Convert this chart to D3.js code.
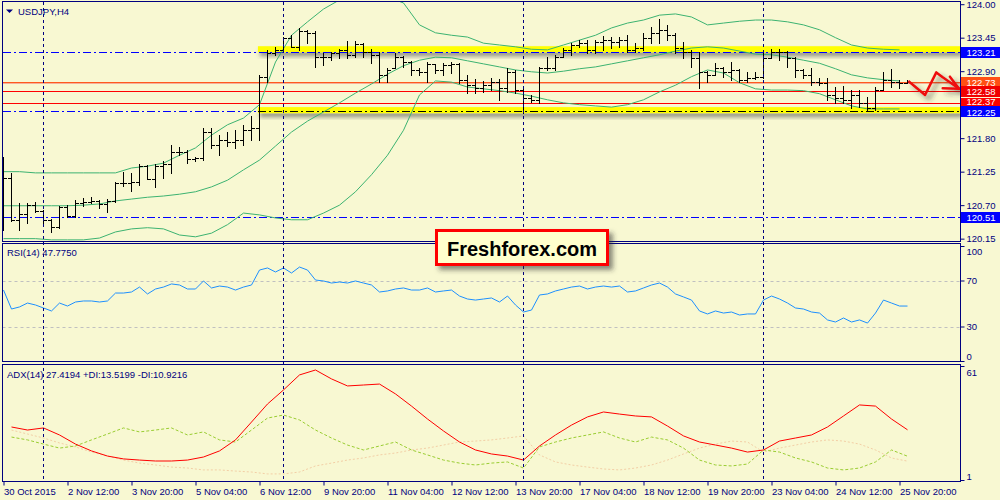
<!DOCTYPE html>
<html><head><meta charset="utf-8">
<script src="https://cdn.jsdelivr.net/npm/d3@7"></script>
<style>
html,body{margin:0;padding:0;background:#f8f8d2;}
svg{display:block;}
text{font-family:"Liberation Sans",Arial,sans-serif;}
</style></head><body>
<svg id="c" width="1000" height="500"></svg>
<script>
// ---------------- DATA ----------------
const title = "USDJPY,H4";
const rsiTitle = "RSI(14) 47.7750";
const adxTitle = "ADX(14) 27.4194 +DI:13.5199 -DI:10.9216";
const logoText = "Freshforex.com";

const timeLabels = ["30 Oct 2015","2 Nov 12:00","3 Nov 20:00","5 Nov 04:00","6 Nov 12:00","9 Nov 20:00","11 Nov 04:00","12 Nov 12:00","13 Nov 20:00","17 Nov 04:00","18 Nov 12:00","19 Nov 20:00","23 Nov 04:00","24 Nov 12:00","25 Nov 20:00"];
const timeLabelBars = [0,8,16,24,32,40,48,56,64,72,80,88,96,104,112];
const weekStartBars = [5,35,65,95];

const open = [120.79,121.15,120.46,120.56,120.70,120.60,120.46,120.34,120.67,120.52,
 120.74,120.75,120.77,120.72,120.77,121.06,121.06,121.08,121.34,121.13,
 121.34,121.38,121.57,121.57,121.46,121.47,121.90,121.69,121.77,121.74,
 121.77,121.93,121.97,122.80,123.20,123.25,123.45,123.30,123.56,123.53,
 123.13,123.13,123.20,123.25,123.17,123.35,123.22,123.17,122.84,122.95,
 123.13,123.05,122.92,122.89,123.02,122.92,123.00,123.02,122.76,122.67,
 122.62,122.67,122.72,122.62,122.89,122.59,122.46,122.43,122.95,122.95,
 123.13,123.25,123.33,123.36,123.25,123.38,123.41,123.38,123.41,123.25,
 123.28,123.45,123.53,123.58,123.49,123.28,123.22,123.12,122.89,122.84,
 122.95,122.89,122.92,122.76,122.79,122.80,123.12,123.22,123.22,123.12,
 122.92,122.84,122.72,122.71,122.51,122.46,122.43,122.51,122.38,122.30,
 122.59,122.76,122.72,122.71];
const high = [121.49,121.23,120.74,120.74,120.75,120.62,120.47,120.69,120.70,120.79,
 120.82,120.83,120.79,120.80,121.08,121.24,121.23,121.38,121.36,121.38,
 121.43,121.69,121.65,121.61,121.49,121.97,121.97,121.85,121.90,121.93,
 122.02,122.16,122.84,123.25,123.30,123.46,123.49,123.61,123.58,123.56,
 123.20,123.22,123.26,123.40,123.40,123.36,123.26,123.22,122.95,123.20,
 123.15,123.07,122.95,123.05,123.02,123.03,123.05,123.03,122.84,122.77,
 122.74,122.79,122.77,122.95,122.92,122.64,122.51,122.97,123.13,123.17,
 123.28,123.36,123.41,123.41,123.41,123.48,123.46,123.46,123.49,123.36,
 123.53,123.63,123.76,123.66,123.53,123.38,123.25,123.22,122.90,123.03,
 122.97,123.05,122.94,122.89,122.89,123.22,123.26,123.26,123.23,123.13,
 122.94,122.95,122.79,122.79,122.64,122.66,122.59,122.59,122.48,122.64,
 122.89,122.94,122.76,122.76];
const low = [120.29,120.44,120.29,120.41,120.59,120.37,120.26,120.33,120.51,120.51,
 120.69,120.74,120.65,120.59,120.75,121.02,120.93,121.03,121.13,121.00,
 121.15,121.23,121.52,121.39,121.43,121.44,121.64,121.52,121.67,121.64,
 121.69,121.77,121.77,122.72,123.17,123.21,123.30,123.25,123.36,122.97,
 123.00,123.08,123.12,123.12,123.13,123.13,123.03,122.72,122.72,122.95,
 122.97,122.84,122.84,122.72,122.87,122.84,122.87,122.71,122.54,122.54,
 122.56,122.59,122.43,122.56,122.54,122.21,122.39,122.38,122.92,122.92,
 123.13,123.17,123.30,123.20,123.20,123.25,123.28,123.30,123.22,123.22,
 123.25,123.36,123.36,123.41,123.20,123.12,122.97,122.62,122.72,122.84,
 122.80,122.76,122.72,122.72,122.77,122.79,123.12,123.08,122.97,122.80,
 122.79,122.67,122.67,122.43,122.38,122.38,122.30,122.31,122.26,122.26,
 122.59,122.64,122.62,122.71];
const close = [121.15,120.46,120.56,120.70,120.60,120.46,120.34,120.67,120.52,120.74,
 120.75,120.77,120.72,120.77,121.06,121.06,121.08,121.34,121.13,121.34,
 121.38,121.57,121.57,121.46,121.47,121.90,121.69,121.77,121.74,121.77,
 121.93,121.97,122.80,123.20,123.25,123.45,123.30,123.56,123.53,123.13,
 123.13,123.20,123.25,123.17,123.35,123.22,123.17,122.84,122.92,123.13,
 123.05,122.92,122.89,123.02,122.92,123.00,123.02,122.76,122.67,122.62,
 122.67,122.72,122.62,122.89,122.59,122.46,122.43,122.95,122.95,123.13,
 123.25,123.33,123.36,123.25,123.38,123.41,123.38,123.41,123.25,123.28,
 123.45,123.53,123.58,123.49,123.28,123.22,123.12,122.89,122.84,122.95,
 122.89,122.92,122.76,122.79,122.80,123.12,123.22,123.22,123.12,122.92,
 122.84,122.72,122.71,122.51,122.46,122.43,122.51,122.38,122.30,122.59,
 122.76,122.72,122.71,122.73];

// Bollinger bands, read at every second bar (bars 0,2,...,112)
const bbUpper = [121.25,121.25,121.23,121.23,121.23,121.23,121.23,121.23,121.31,121.34,
 121.39,121.52,121.64,121.85,122.02,122.13,122.35,123.05,123.49,123.71,
 123.92,124.07,124.12,124.12,124.12,124.02,123.66,123.53,123.49,123.46,
 123.36,123.33,123.30,123.26,123.25,123.33,123.41,123.49,123.61,123.69,
 123.74,123.82,123.84,123.79,123.66,123.69,123.72,123.74,123.74,123.71,
 123.66,123.58,123.45,123.33,123.28,123.26,123.25];
const bbMiddle = [120.69,120.69,120.69,120.69,120.69,120.70,120.72,120.77,120.80,120.83,
 120.85,120.88,120.92,121.00,121.11,121.28,121.44,121.67,121.90,122.08,
 122.23,122.38,122.54,122.69,122.85,122.99,123.08,123.13,123.12,123.07,
 123.02,122.97,122.92,122.89,122.87,122.90,122.94,122.97,123.02,123.07,
 123.12,123.17,123.23,123.28,123.30,123.28,123.23,123.18,123.17,123.13,
 123.08,123.03,122.94,122.84,122.79,122.76,122.74];
const bbLower = [120.15,120.15,120.15,120.13,120.13,120.13,120.16,120.26,120.31,120.33,
 120.31,120.21,120.18,120.24,120.38,120.57,120.54,120.49,120.46,120.46,
 120.57,120.70,120.92,121.20,121.52,121.93,122.51,122.74,122.72,122.64,
 122.61,122.58,122.54,122.49,122.43,122.38,122.35,122.33,122.31,122.35,
 122.43,122.56,122.67,122.81,122.92,122.87,122.71,122.61,122.59,122.59,
 122.58,122.53,122.43,122.33,122.28,122.28,122.28];

const rsi = [61.7,45.2,47.0,50.4,48.7,46.1,43.5,50.4,47.8,51.3,
 52.2,52.2,51.3,52.2,59.1,59.1,60.0,64.3,58.3,62.6,
 64.3,67.0,66.1,62.6,62.6,69.6,63.5,65.2,64.3,61.7,
 64.3,66.1,79.1,80.9,77.4,80.9,76.5,81.7,79.1,70.4,
 69.6,67.8,68.7,67.8,69.6,67.8,66.1,60.0,60.9,62.6,
 63.5,61.7,61.7,63.5,60.0,60.9,61.7,56.5,53.9,53.0,
 53.9,54.8,51.3,56.5,48.7,42.6,44.3,57.4,58.3,60.9,
 62.6,64.3,65.2,62.6,64.3,65.2,64.3,65.2,60.0,60.9,
 63.5,66.1,67.8,64.3,58.3,55.7,53.0,43.5,40.9,43.5,
 41.7,42.6,40.0,40.9,40.9,53.0,56.5,53.9,50.4,46.1,
 45.2,42.6,41.7,35.7,33.9,37.4,33.9,35.7,33.0,41.7,
 53.0,50.4,47.8,47.78];

// ADX / DI, read at every second bar (bars 1,3,...,113)
const adx = [28.9,27.3,28.4,24.7,19.9,16.3,13.6,12.1,11.5,11.0,
 11.0,11.5,13.1,16.3,22.1,31.5,41.0,48.4,56.3,58.9,
 54.2,50.5,51.0,51.5,46.3,39.9,33.1,26.8,21.0,16.8,
 14.7,13.6,11.5,18.9,24.7,29.9,34.2,36.8,35.7,34.7,
 34.2,29.4,24.2,21.0,19.4,17.8,15.7,16.8,21.5,23.1,
 24.7,28.9,34.7,40.5,39.9,33.1,27.42];
const plusDI = [23.6,22.1,19.9,17.8,18.9,22.1,25.2,28.4,26.3,27.3,
 28.4,24.7,26.3,22.1,21.0,27.3,33.6,35.2,32.6,27.3,
 23.1,19.4,16.8,18.9,21.0,16.8,14.2,11.5,9.9,8.9,
 9.9,10.5,7.3,18.4,21.0,23.1,24.7,26.3,23.1,21.0,
 23.6,22.1,17.8,11.5,8.9,8.4,9.4,16.8,15.7,12.6,
 10.5,7.3,6.3,7.3,10.5,16.8,13.52];
const minusDI = [27.3,25.2,23.1,20.5,18.4,15.7,13.6,11.5,9.9,8.9,
 7.8,7.3,6.3,6.3,5.7,5.2,4.2,4.2,5.2,8.4,
 9.9,11.5,12.6,14.2,15.2,16.8,17.8,19.4,21.0,21.5,
 22.1,23.1,24.2,14.2,10.5,8.9,7.8,6.8,6.3,7.3,
 8.9,11.5,14.7,17.8,19.9,21.5,21.0,15.7,17.8,19.4,
 21.0,22.1,21.5,19.9,16.8,12.6,10.92];

const priceTicks = [124.00,123.45,122.90,121.80,121.25,120.70,120.15];
const rsiTicks = [100,70,30,0];
const rsiLevels = [70,30];
const adxTicks = [61,1];
const dashDotLevels = [123.21,122.25,120.51];
const solidLevels = [122.73,122.70,122.58,122.37];
const tagPrices = [123.21,122.73,122.58,122.37,122.25,120.51];
const zoneStart = 31.8;
const zones = [[123.21,123.31],[122.21,122.31]];
const arrowBars = [113.1,115.2,116.6,117.4,119.45];
const arrowPrices = [122.74,122.51,122.88,122.80,122.61];
const arrowHeadBars = [118.3,117.4];
const arrowHeadPrices = [122.81,122.62];

// ---------------- DRAW ----------------
const navy = "#000080", bg = "#f8f8d2";
const svg = d3.select("#c");
const L = 2.5, R = 960.5;
const P = {main:[1.5,241.5], rsi:[243.5,361.5], adx:[364.5,481.5]};

const x = d3.scaleLinear().domain([0,113]).range([3.5,907.5]);
const yP = d3.scaleLinear().domain([120.15,124.00]).range([238.65,4.19]);
const yR = d3.scaleLinear().domain([0,100]).range([361,246]);
const yA = d3.scaleLinear().domain([1,61]).range([480,366]);

const defs = svg.append("defs");
Object.entries(P).forEach(([k,[t,b]])=>{
  defs.append("clipPath").attr("id","clip-"+k).append("rect")
    .attr("x",L+0.5).attr("y",t+0.5).attr("width",R-L-1).attr("height",b-t-1);
});
const f1 = defs.append("filter").attr("id","shadow").attr("x","-20%").attr("y","-50%").attr("width","140%").attr("height","250%");
f1.append("feDropShadow").attr("dx",2).attr("dy",4).attr("stdDeviation",2).attr("flood-color","#444").attr("flood-opacity",0.55);
const f2 = defs.append("filter").attr("id","shadow2").attr("x","-20%").attr("y","-30%").attr("width","150%").attr("height","170%");
f2.append("feDropShadow").attr("dx",4).attr("dy",4).attr("stdDeviation",2.5).attr("flood-color","#333").attr("flood-opacity",0.55);

svg.append("rect").attr("width",1000).attr("height",500).attr("fill",bg);

const gMain = svg.append("g").attr("clip-path","url(#clip-main)");
const gRsi = svg.append("g").attr("clip-path","url(#clip-rsi)");
const gAdx = svg.append("g").attr("clip-path","url(#clip-adx)");

// yellow zones
gMain.selectAll("rect.zone").data(zones).enter().append("rect").attr("class","zone")
  .attr("x",x(zoneStart)).attr("width",R - x(zoneStart))
  .attr("y",d=>yP(d[1])).attr("height",d=>yP(d[0])-yP(d[1]))
  .attr("fill","#ffff00").attr("filter","url(#shadow)");

// solid red/orange levels
const solidColors = ["#ff5a1e","#f6b09a","#ff0000","#ff0000"];
gMain.selectAll("line.sl").data(solidLevels).enter().append("line").attr("class","sl")
  .attr("x1",L).attr("x2",R).attr("y1",d=>Math.round(yP(d))+0.5).attr("y2",d=>Math.round(yP(d))+0.5)
  .style("stroke",(d,i)=>solidColors[i]).attr("stroke-width",1).attr("shape-rendering","crispEdges");

// dash-dot levels
gMain.selectAll("line.dd").data(dashDotLevels).enter().append("line").attr("class","dd")
  .attr("x1",L).attr("x2",(d,i)=> i===1 ? x(zoneStart) : R)
  .attr("y1",d=>Math.round(yP(d))+0.5).attr("y2",d=>Math.round(yP(d))+0.5)
  .attr("stroke","#0000ff").attr("stroke-dasharray","8,3,2,3").attr("shape-rendering","crispEdges");
gMain.append("line").attr("x1",x(zoneStart)).attr("x2",R)
  .attr("y1",Math.round(yP(dashDotLevels[1]))+0.5).attr("y2",Math.round(yP(dashDotLevels[1]))+0.5)
  .attr("stroke","#000").attr("stroke-dasharray","8,3,2,3").attr("shape-rendering","crispEdges");

// weekly separators across all panels
svg.append("g").selectAll("line").data(weekStartBars).enter().append("line")
  .attr("x1",d=>x(d)).attr("x2",d=>x(d)).attr("y1",P.main[0]).attr("y2",P.adx[1])
  .attr("stroke",navy).attr("stroke-dasharray","3,3").attr("shape-rendering","crispEdges");

// Bollinger bands
const bbIdx = d3.range(0,114,2);
const bbLine = arr => d3.line().x((d,i)=>x(bbIdx[i])).y(d=>yP(d))(arr);
[bbUpper,bbMiddle,bbLower].forEach(arr=>{
  gMain.append("path").attr("d",bbLine(arr)).attr("fill","none").attr("stroke","#3cb371").attr("stroke-width",1);
});

// OHLC bars
const bars = d3.range(open.length);
gMain.append("g").attr("shape-rendering","crispEdges").selectAll("path").data(bars).enter().append("path")
  .attr("d",i=>{
    const cx = x(i);
    const yh = Math.round(yP(high[i])), yl = Math.round(yP(low[i]));
    const yo = Math.round(yP(open[i]))+0.5, yc = Math.round(yP(close[i]))+0.5;
    return `M${cx},${yh}V${Math.max(yl,yh+1)+1}M${cx-3.5},${yo}H${cx}M${cx},${yc}H${cx+3.5}`;
  })
  .attr("stroke","#000").attr("stroke-width",1).attr("fill","none");

// forecast arrow
const arrowPts = arrowBars.map((b,i)=>[x(b),yP(arrowPrices[i])]);
const tip = arrowPts[arrowPts.length-1];
const gArrow = gMain.append("g").attr("filter","url(#shadow2)");
gArrow.append("path").attr("d",d3.line()(arrowPts)).attr("fill","none").attr("stroke","#ee1111").attr("stroke-width",2.5).attr("stroke-linejoin","round");
gArrow.selectAll("line.ah").data(arrowHeadBars).enter().append("line")
  .attr("x1",tip[0]).attr("y1",tip[1]).attr("x2",d=>x(d)).attr("y2",(d,i)=>yP(arrowHeadPrices[i]))
  .attr("stroke","#ee1111").attr("stroke-width",2.5).attr("stroke-linecap","round");

// RSI
gRsi.selectAll("line.lv").data(rsiLevels).enter().append("line")
  .attr("x1",L).attr("x2",R).attr("y1",d=>Math.round(yR(d))+0.5).attr("y2",d=>Math.round(yR(d))+0.5)
  .attr("stroke","#c0c0c0").attr("stroke-dasharray","3,3");
gRsi.append("path").attr("d",d3.line().x((d,i)=>x(i)).y(d=>yR(d))(rsi))
  .attr("fill","none").attr("stroke","#1e90ff").attr("stroke-width",1);

// ADX
const adxIdx = d3.range(1,114,2);
const aLine = arr => d3.line().x((d,i)=>x(adxIdx[i])).y(d=>yA(d))(arr);
gAdx.append("path").attr("d",aLine(minusDI)).attr("fill","none").attr("stroke","#f3cfa6").attr("stroke-dasharray","2,2");
gAdx.append("path").attr("d",aLine(plusDI)).attr("fill","none").attr("stroke","#9acd32").attr("stroke-dasharray","3,2");
gAdx.append("path").attr("d",aLine(adx)).attr("fill","none").attr("stroke","#ff0000").attr("stroke-width",1);

// frames
Object.values(P).forEach(([t,b])=>{
  svg.append("rect").attr("x",L).attr("y",t).attr("width",R-L).attr("height",b-t)
    .attr("fill","none").attr("stroke",navy).attr("stroke-width",1);
});

// axes
const fs = "9.5px";
function styleAxis(g){
  g.select(".domain").remove();
  g.selectAll(".tick line").attr("stroke",navy);
  g.selectAll(".tick text").attr("fill",navy).style("font-size",fs).style("font-family","Liberation Sans, Arial, sans-serif");
}
const axP = svg.append("g").attr("transform",`translate(${R},0)`)
  .call(d3.axisRight(yP).tickValues(priceTicks).tickSize(4).tickPadding(2).tickFormat(d3.format(".2f")));
styleAxis(axP);
const axR = svg.append("g").attr("transform",`translate(${R},0)`)
  .call(d3.axisRight(yR).tickValues(rsiTicks).tickSize(4).tickPadding(2).tickFormat(d3.format("d")));
styleAxis(axR);
axR.selectAll(".tick text").attr("dy",d=> d===100 ? "0.85em" : d===0 ? "-0.2em" : "0.32em");
const axA = svg.append("g").attr("transform",`translate(${R},0)`)
  .call(d3.axisRight(yA).tickValues(adxTicks).tickSize(4).tickPadding(2).tickFormat(d3.format("d")));
styleAxis(axA);
axA.selectAll(".tick text").attr("dy",d=> d===61 ? "1em" : "-0.06em");
const axX = svg.append("g").attr("transform",`translate(0,${P.adx[1]})`)
  .call(d3.axisBottom(x).tickValues(timeLabelBars).tickSize(4).tickFormat((d,i)=>timeLabels[i]));
styleAxis(axX);
axX.selectAll(".tick text").attr("text-anchor","start").attr("x",0);

// price tags (122.37 sits partly behind 122.25, as in the reference)
const tagColors = ["#0000ff","#ff4f14","#f00000","#ff0000","#0000ff","#0000ff"];
const tagShift = [0,0,0,-2.5,0.5,0];
const tags = svg.append("g");
tagPrices.forEach((p,i)=>{
  const yc = Math.round(yP(p));
  tags.append("rect").attr("x",R+0.5).attr("y",yc-5).attr("width",1000-R).attr("height",11).attr("fill",tagColors[i]);
  tags.append("text").attr("x",R+6).attr("y",yc+4+tagShift[i]).attr("fill","#fff").style("font-size",fs).text(d3.format(".2f")(p));
});

// titles
svg.append("path").attr("d","M6,9.5H13L9.5,13Z").attr("fill",navy);
svg.append("text").attr("x",18).attr("y",14.5).attr("fill",navy).style("font-size",fs).text(title);
svg.append("text").attr("x",7).attr("y",255.5).attr("fill",navy).style("font-size",fs).text(rsiTitle);
svg.append("text").attr("x",7).attr("y",377.5).attr("fill",navy).style("font-size",fs).text(adxTitle);

// logo
const logo = svg.append("g");
logo.append("rect").attr("x",436.5).attr("y",230.5).attr("width",171).attr("height",34)
  .attr("fill","#ffffcc").attr("stroke","#ff0000").attr("stroke-width",3).attr("filter","url(#shadow2)");
logo.append("text").attr("x",522).attr("y",256).attr("text-anchor","middle")
  .style("font-size","20px").style("font-weight","bold").attr("fill","#000").text(logoText);
</script>
</body></html>
